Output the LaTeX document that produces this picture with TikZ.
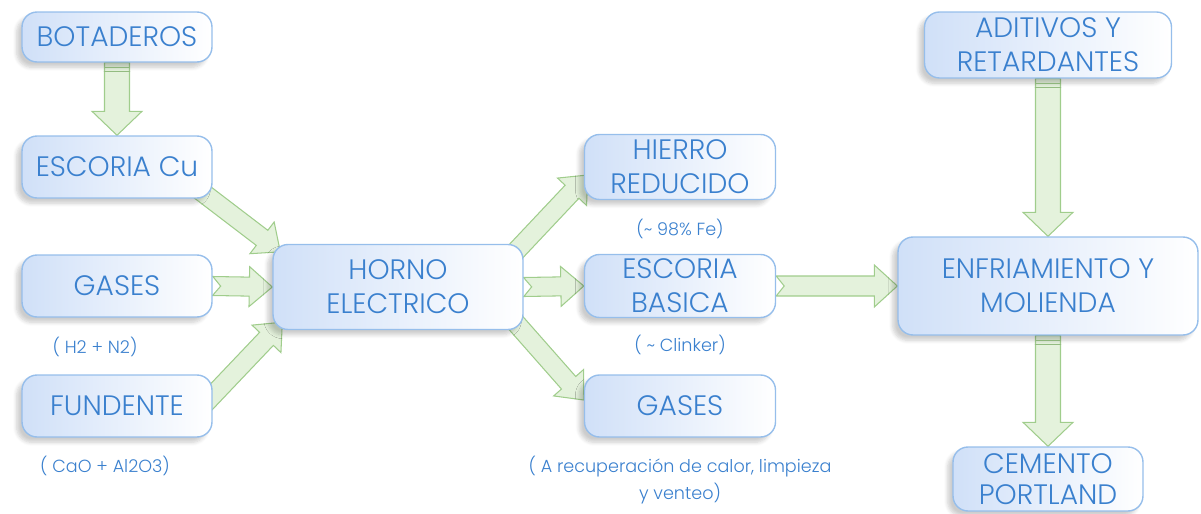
\documentclass[tikz,border=0pt]{standalone}
\usepackage{fontspec}
\setmainfont{Poppins}[UprightFont=* Light]
\usetikzlibrary{calc,shadows.blur}

\definecolor{azultexto}{RGB}{58,128,206}
\definecolor{azulborde}{RGB}{150,190,235}
\definecolor{azulfondo}{RGB}{208,224,248}
\definecolor{verdeborde}{RGB}{160,205,140}
\definecolor{verdefondo}{RGB}{228,242,220}

\pgfdeclarelayer{fondo}
\pgfsetlayers{fondo,main}

\tikzset{
  caja/.style={draw=azulborde, line width=0.8pt, rounded corners=0.3cm,
    left color=azulfondo, right color=white, text=azultexto, align=center,
    font=\fontsize{16}{19.5}\selectfont, inner sep=0pt,
    blur shadow={shadow xshift=-3pt, shadow yshift=-3pt, shadow opacity=20, shadow blur steps=6}},
  nota/.style={text=azultexto, align=center, font=\fontsize{10}{15}\selectfont},
  flechaverde/.style={draw=verdeborde, fill=verdefondo, line width=0.6pt, line join=miter}
}

% flecha gruesa con cola en V
\newcommand{\flecha}[3][0.19]{%
  \coordinate (ini) at (#2);
  \coordinate (fin) at (#3);
  \coordinate (cuello) at ($(fin)!0.46cm!(ini)$);
  \draw[flechaverde] ($(ini)!#1cm!90:(fin)$) -- ($(cuello)!#1cm!-90:(ini)$)
    -- ($(cuello)!2.1*#1cm!-90:(ini)$) -- (fin) -- ($(cuello)!2.1*#1cm!90:(ini)$)
    -- ($(cuello)!#1cm!90:(ini)$) -- ($(ini)!#1cm!-90:(fin)$) -- ($(ini)!0.16cm!(fin)$) -- cycle;
}
% flecha gruesa con cola recta y banda
\newcommand{\flechabanda}[3][0.25]{%
  \coordinate (ini) at (#2);
  \coordinate (fin) at (#3);
  \coordinate (cuello) at ($(fin)!0.48cm!(ini)$);
  \coordinate (banda1) at ($(ini)!0.1cm!(fin)$);
  \coordinate (banda2) at ($(ini)!0.18cm!(fin)$);
  \draw[flechaverde] ($(ini)!#1cm!90:(fin)$) -- ($(cuello)!#1cm!-90:(ini)$)
    -- ($(cuello)!2*#1cm!-90:(ini)$) -- (fin) -- ($(cuello)!2*#1cm!90:(ini)$)
    -- ($(cuello)!#1cm!90:(ini)$) -- ($(ini)!#1cm!-90:(fin)$) -- cycle;
  \draw[flechaverde] ($(banda1)!#1cm!90:(fin)$) -- ($(banda1)!#1cm!-90:(fin)$);
  \draw[flechaverde] ($(banda2)!#1cm!90:(fin)$) -- ($(banda2)!#1cm!-90:(fin)$);
}

\begin{document}
\begin{tikzpicture}[x=0.02cm,y=-0.02cm,line cap=round,line join=round]
\useasboundingbox (0,0) rectangle (1201,514);

% columna de entrada
\node[caja, minimum width=3.8cm, minimum height=1.0cm] (botad) at (117,37) {BOTADEROS};
\node[caja, minimum width=3.8cm, minimum height=1.24cm] (escCu) at (117,167) {ESCORIA Cu};
\node[caja, minimum width=3.8cm, minimum height=1.24cm] (gasesI) at (117,286) {GASES};
\node[caja, minimum width=3.8cm, minimum height=1.24cm] (fund) at (117,406) {FUNDENTE};
\node[nota] (notaGases) at (95,347) {( H2 + N2)};
\node[nota] (notaFund) at (105,466) {( CaO + Al2O3)};

% horno
\node[caja, minimum width=5.0cm, minimum height=1.7cm] (horno) at (398,287) {HORNO\\ELECTRICO};

% productos
\node[caja, minimum width=3.82cm, minimum height=1.3cm] (hierro) at (680,167) {HIERRO\\REDUCIDO};
\node[caja, minimum width=3.82cm, minimum height=1.26cm] (escBas) at (680,286) {ESCORIA\\BASICA};
\node[caja, minimum width=3.82cm, minimum height=1.24cm] (gasesD) at (680,406) {GASES};
\node[nota] (notaHierro) at (680,229) {(\textasciitilde{} 98\% Fe)};
\node[nota] (notaEsc) at (680,345) {( \textasciitilde{} Clinker)};
\node[nota] (notaGasesD) at (680,480) {( A recuperación de calor, limpieza\\y venteo)};

% molienda
\node[caja, minimum width=4.94cm, minimum height=1.32cm] (adit) at (1048,45) {ADITIVOS Y\\RETARDANTES};
\node[caja, minimum width=6.0cm, minimum height=1.96cm] (enfri) at (1048,286) {ENFRIAMIENTO Y\\MOLIENDA};
\node[caja, minimum width=3.8cm, minimum height=1.28cm, font=\fontsize{16}{17.5}\selectfont] (cem) at (1048,479) {CEMENTO\\PORTLAND};

\begin{pgfonlayer}{fondo}
\flechabanda{botad.south}{escCu.north}
\flecha{$(escCu.south east)+(-15,-10)$}{$(horno.north west)+(8,8)$}
\flecha{gasesI.east}{horno.west}
\flecha{$(fund.east)+(-10,0)$}{$(horno.south west)+(10,-8)$}
\flecha{$(horno.north east)+(-12,12)$}{$(hierro.west)+(4,8)$}
\flecha{horno.east}{escBas.west}
\flecha{$(horno.south east)+(-12,-12)$}{$(gasesD.west)+(0,-6)$}
\flecha[0.2]{escBas.east}{enfri.west}
\flechabanda{adit.south}{enfri.north}
\flechabanda{enfri.south}{cem.north}
\end{pgfonlayer}
\end{tikzpicture}
\end{document}
